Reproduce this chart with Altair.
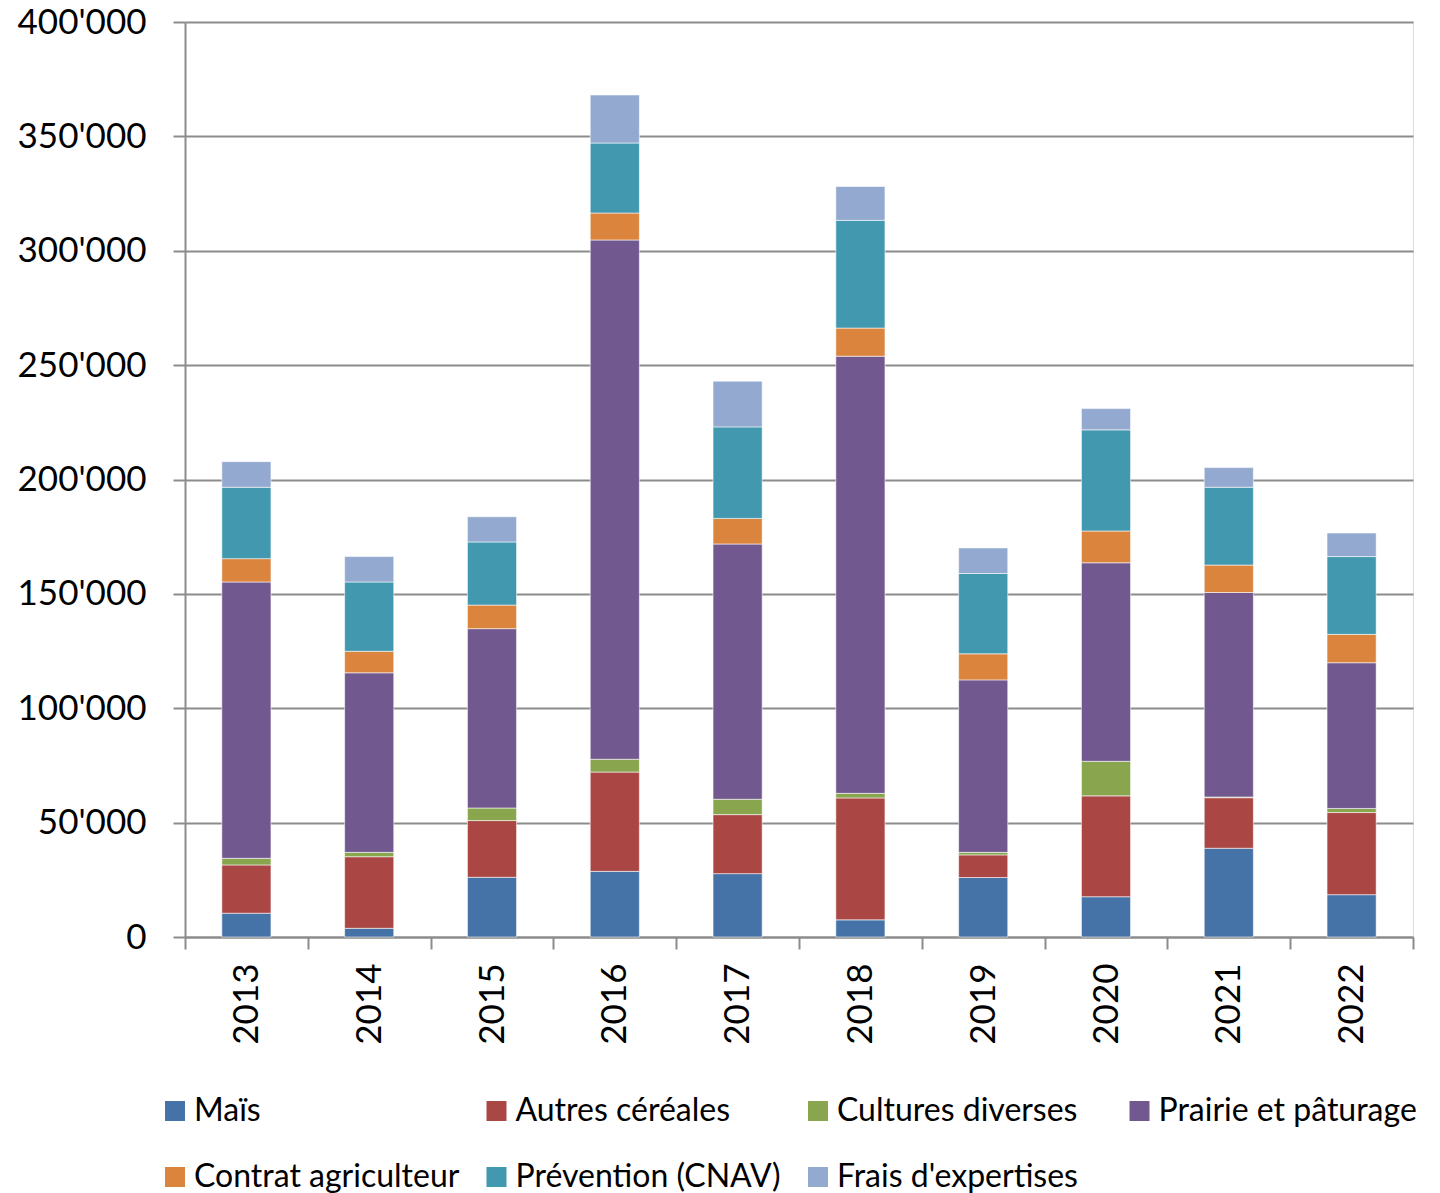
import altair as alt
import pandas as pd

years = ["2013", "2014", "2015", "2016", "2017", "2018", "2019", "2020", "2021", "2022"]
series = ["Maïs", "Autres céréales", "Cultures diverses", "Prairie et pâturage",
          "Contrat agriculteur", "Prévention (CNAV)", "Frais d'expertises"]
colors = ["#4572A7", "#AA4643", "#89A54E", "#71588F", "#DB843D", "#4198AF", "#93A9CF"]

mais        = [10400, 3800, 26100, 28700, 27700, 7500, 26000, 17600, 38800, 18500]
autres      = [21100, 31300, 24800, 43400, 25800, 53300, 9900, 44100, 22100, 35900]
cultures    = [2900, 1900, 5500, 5600, 6700, 2000, 1100, 15100, 300, 1800]
prairie     = [120800, 78500, 78400, 227000, 111600, 191100, 75400, 86800, 89400, 63700]
contrat     = [10200, 9400, 10300, 11800, 11200, 12300, 11400, 13900, 12000, 12400]
prevention  = [31200, 30300, 27600, 30600, 40000, 47100, 35100, 44200, 34000, 34000]
frais       = [11200, 11100, 11000, 21000, 20000, 14800, 11200, 9300, 8600, 10300]

values = [mais, autres, cultures, prairie, contrat, prevention, frais]

rows = []
for si, (name, vals) in enumerate(zip(series, values)):
    for y, v in zip(years, vals):
        rows.append({"Année": y, "Catégorie": name, "Montant": v, "idx": si})
df = pd.DataFrame(rows)

FONT = "Lato"

chart = alt.Chart(df).mark_bar(
    width=alt.RelativeBandSize(0.4),
    stroke="white", strokeWidth=0.8, strokeOpacity=0.7
).encode(
    x=alt.X("Année:N", sort=years, title=None,
            scale=alt.Scale(paddingInner=0, paddingOuter=0),
            axis=alt.Axis(labelAngle=270, labelFontSize=35, labelFont=FONT,
                          labelColor="black", labelPadding=14,
                          tickSize=12, tickBand="extent", tickColor="#8c8c8c",
                          tickWidth=2, domainColor="#8c8c8c", domainWidth=2)),
    y=alt.Y("Montant:Q", stack="zero", title=None,
            scale=alt.Scale(domain=[0, 400000], nice=False),
            axis=alt.Axis(values=[0, 50000, 100000, 150000, 200000, 250000, 300000, 350000, 400000],
                          labelExpr="replace(format(datum.value, ','), ',', \"'\")",
                          labelFontSize=35, labelFont=FONT, labelColor="black",
                          labelPadding=27, tickSize=12, tickColor="#8c8c8c", tickWidth=2,
                          domainColor="#8c8c8c", domainWidth=2,
                          grid=True, gridColor="#8c8c8c", gridWidth=2)),
    color=alt.Color("Catégorie:N", sort=series,
                    scale=alt.Scale(domain=series, range=colors),
                    legend=alt.Legend(orient="none", legendX=-26, legendY=1073,
                                      direction="horizontal", columns=4, title=None,
                                      symbolType="square", symbolSize=400,
                                      symbolStrokeWidth=0, labelFontSize=32,
                                      labelFont=FONT, labelColor="black",
                                      labelOffset=3, columnPadding=20.5, rowPadding=34,
                                      gridAlign="all", padding=0, labelLimit=400)),
    order=alt.Order("idx:Q", sort="ascending"),
).properties(
    width=1228, height=915,
    padding={"left": 177, "top": 14, "right": 19, "bottom": 256},
    autosize=alt.AutoSizeParams(type="none"),
).configure_view(stroke=None).configure(background="white")

chart.save("out.html", embed_options={"renderer": "svg", "actions": False})
